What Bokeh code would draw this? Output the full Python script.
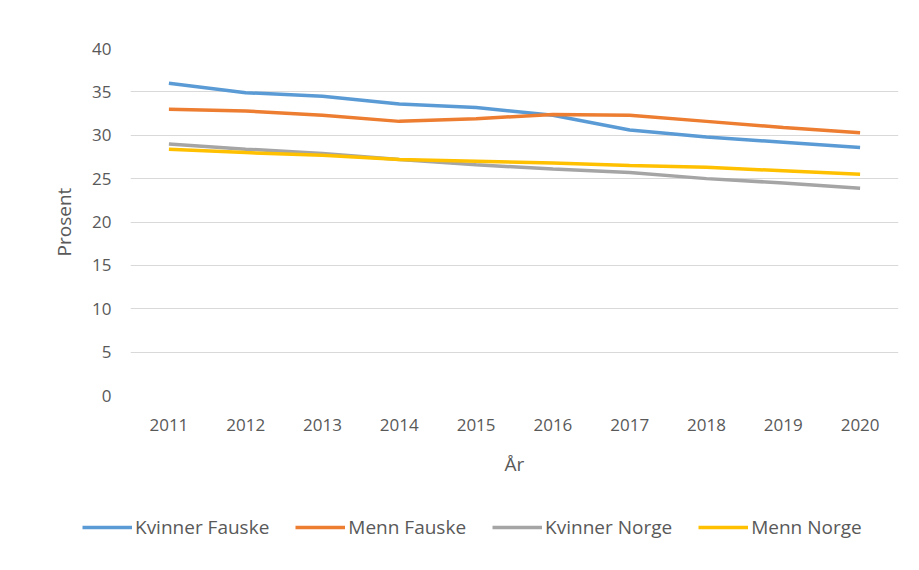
from bokeh.plotting import figure
from bokeh.models import Legend, LegendItem, Range1d, FactorRange
from bokeh.layouts import column
from bokeh.embed import file_html
from bokeh.resources import INLINE

years = ["2011", "2012", "2013", "2014", "2015", "2016", "2017", "2018", "2019", "2020"]
kvinner_fauske = [36.0, 34.9, 34.5, 33.6, 33.2, 32.3, 30.6, 29.8, 29.2, 28.6]
menn_fauske = [33.0, 32.8, 32.3, 31.6, 31.9, 32.4, 32.3, 31.6, 30.9, 30.3]
kvinner_norge = [29.0, 28.4, 27.9, 27.2, 26.6, 26.1, 25.7, 25.0, 24.5, 23.9]
menn_norge = [28.4, 28.0, 27.7, 27.2, 27.0, 26.8, 26.5, 26.3, 25.9, 25.5]
y_ticks = [0, 5, 10, 15, 20, 25, 30, 35, 40]

series = [
    ("Kvinner Fauske", kvinner_fauske, "#5B9BD5"),
    ("Menn Fauske", menn_fauske, "#ED7D31"),
    ("Kvinner Norge", kvinner_norge, "#A5A5A5"),
    ("Menn Norge", menn_norge, "#FFC000"),
]

FONT = "Open Sans"
TXT = "#595959"

p = figure(frame_width=768, frame_height=347, x_range=FactorRange(*years), y_range=Range1d(0, 40),
           output_backend="svg", toolbar_location=None,
           min_border_left=130, min_border_right=13, min_border_top=48, min_border_bottom=95)

for name, vals, col in series:
    p.line(years, vals, line_color=col, line_width=3.5)

p.outline_line_color = None
p.background_fill_color = "white"
p.border_fill_color = "white"
p.xgrid.grid_line_color = None
p.ygrid.grid_line_color = "#d9d9d9"
p.ygrid.grid_line_width = 1
p.yaxis.ticker = y_ticks

for ax in (p.xaxis[0], p.yaxis[0]):
    ax.axis_line_color = None
    ax.major_tick_line_color = None
    ax.minor_tick_line_color = None
    ax.major_tick_out = 0
    ax.major_tick_in = 0
    ax.minor_tick_out = 0
    ax.major_label_text_font = FONT
    ax.major_label_text_font_size = "17px"
    ax.major_label_text_color = TXT
    ax.axis_label_text_font = FONT
    ax.axis_label_text_font_size = "19px"
    ax.axis_label_text_font_style = "normal"
    ax.axis_label_text_color = TXT

p.yaxis.axis_label = "Prosent"
p.yaxis.major_label_standoff = 19
p.yaxis.axis_label_standoff = 12
p.xaxis.axis_label = "År"
p.xaxis.major_label_standoff = 23
p.xaxis.axis_label_standoff = 17

# Legend strip below the chart (series drawn out of view, only their legend shows)
lf = figure(width=911, height=75, x_range=FactorRange(*years), y_range=Range1d(100, 101),
            output_backend="svg", toolbar_location=None,
            x_axis_location=None, y_axis_location=None,
            min_border_left=0, min_border_right=0, min_border_top=0, min_border_bottom=0)
legend_x = -48
if hasattr(lf, "frame_align"):
    lf.frame_align = False
    legend_x = 82
lf.outline_line_color = None
lf.xgrid.grid_line_color = None
lf.ygrid.grid_line_color = None
lf.border_fill_color = "white"

items = []
for name, vals, col in series:
    r = lf.line(years, vals, line_color=col, line_width=3.5)
    items.append(LegendItem(label=name, renderers=[r]))

legend = Legend(items=items, orientation="horizontal", location=(legend_x, 25),
                label_text_font=FONT, label_text_font_size="19px", label_text_color=TXT,
                glyph_width=50, glyph_height=20, label_standoff=3, spacing=26,
                border_line_color=None, background_fill_alpha=0, padding=0, margin=0)
lf.add_layout(legend, "center")

layout = column(p, lf)
open("out.html", "w").write(file_html(layout, INLINE))
